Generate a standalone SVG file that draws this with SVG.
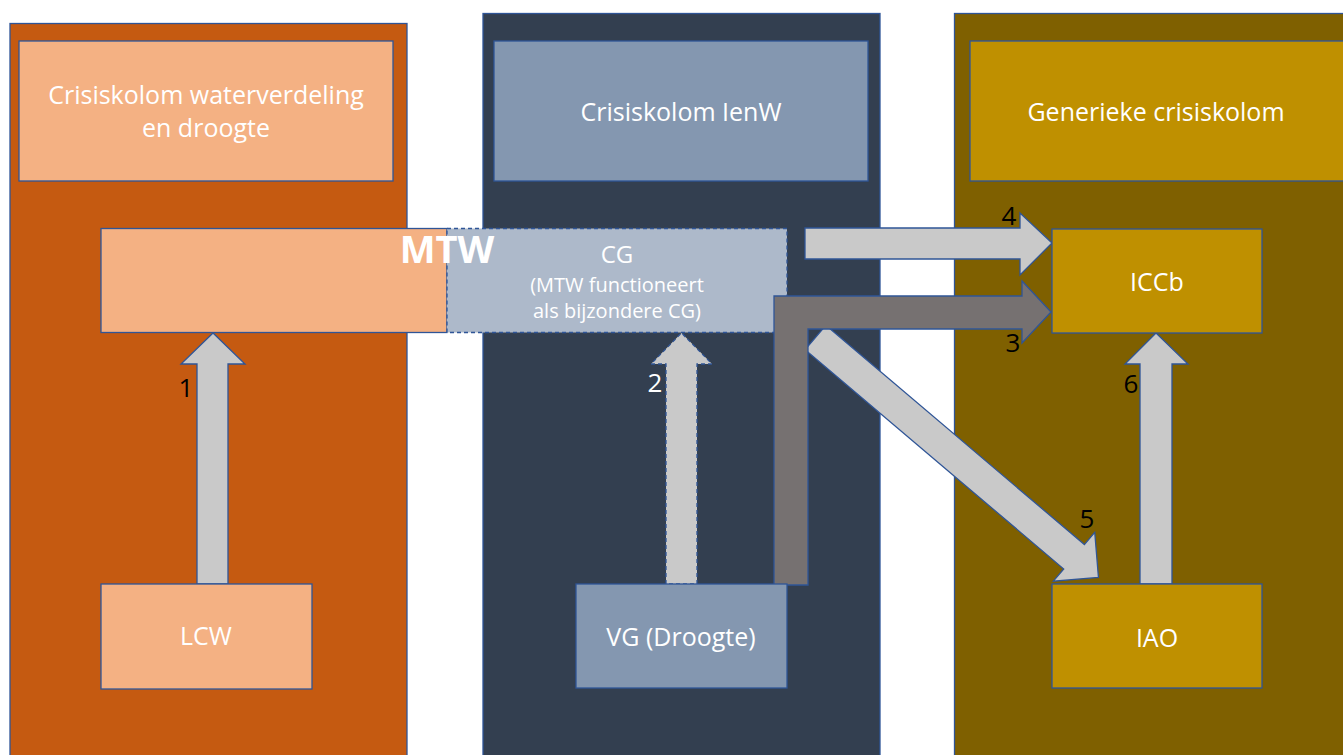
<svg xmlns="http://www.w3.org/2000/svg" width="1343" height="755" viewBox="0 0 1343 755">
<style>
.b{stroke:#2F5597;stroke-width:1.3}
.d{stroke-dasharray:4 3}
.t{font-family:"Open Sans","Noto Sans",sans-serif;fill:#FFFFFF;text-anchor:middle}
.n{font-family:"Open Sans","Noto Sans",sans-serif;font-size:26px;fill:#000000;text-anchor:middle}
.la{fill:#C9C9C9}
.da{fill:#767171}
</style>
<rect width="1343" height="755" fill="#FFFFFF"/>
<g id="col-left">
<rect class="b" x="10" y="23.5" width="397" height="740" fill="#C55A11"/>
<rect class="b" x="19" y="41" width="374" height="140" fill="#F4B183"/>
<text class="t" font-size="25" x="206" y="104">Crisiskolom waterverdeling</text>
<text class="t" font-size="25" x="206" y="137">en droogte</text>
</g>
<g id="col-mid">
<rect class="b" x="483" y="13.5" width="397" height="750" fill="#333F50"/>
<rect class="b" x="494" y="41" width="374" height="140" fill="#8497B0"/>
<text class="t" font-size="25" x="681" y="121">Crisiskolom IenW</text>
</g>
<g id="col-right">
<rect class="b" x="954.5" y="13.5" width="400" height="750" fill="#7F6000"/>
<rect class="b" x="970" y="41" width="390" height="140" fill="#BF9000"/>
<text class="t" font-size="25" x="1156" y="121">Generieke crisiskolom</text>
</g>
<g id="mtw">
<rect class="b" x="101" y="228.5" width="346" height="104" fill="#F4B183"/>
<rect class="b d" x="447" y="228.5" width="340" height="104" fill="#ADB9CA"/>
<text class="t" font-size="38" font-weight="700" x="447" y="263">MTW</text>
<text class="t" font-size="24" x="617" y="263">CG</text>
<text class="t" font-size="20" x="617" y="292">(MTW functioneert</text>
<text class="t" font-size="20" x="617" y="318">als bijzondere CG)</text>
</g>
<g id="connectors">
<polygon class="la b" points="197,584 197,364 181,364 213,333 245,364 228,364 228,584"/>
<polygon class="la b d" points="666,584 666,364 651,364 681.5,333 712,364 697,364 697,584"/>
<polygon class="la b" points="805,228 1020,228 1020,213 1052,243 1020,275 1020,259 805,259"/>
<polygon class="la b" transform="translate(815.5,337.5) rotate(40.3)" points="0,-16 339,-16 339,-32 371,0 339,32 339,16 0,16"/>
<polygon class="da b" points="774,585 774,296 1022,296 1022,281 1051,312 1022,343 1022,329 808,329 808,585"/>
<polygon class="la b" points="1140,584 1140,364 1125,364 1156,333 1188,364 1172,364 1172,584"/>
<text class="n" x="186" y="397">1</text>
<text class="n" x="655" y="392" fill="#FFFFFF" style="fill:#FFFFFF">2</text>
<text class="n" x="1013" y="352">3</text>
<text class="n" x="1009" y="225">4</text>
<text class="n" x="1087" y="528">5</text>
<text class="n" x="1131" y="393">6</text>
</g>
<g id="lcw">
<rect class="b" x="101" y="584" width="211" height="105" fill="#F4B183"/>
<text class="t" font-size="25" x="206" y="645">LCW</text>
</g>
<g id="vg">
<rect class="b" x="576" y="584" width="211" height="104" fill="#8497B0"/>
<text class="t" font-size="25" x="681" y="646">VG (Droogte)</text>
</g>
<g id="iccb">
<rect class="b" x="1052" y="229" width="210" height="104" fill="#BF9000"/>
<text class="t" font-size="25" x="1157" y="291">ICCb</text>
</g>
<g id="iao">
<rect class="b" x="1052" y="584" width="210" height="104" fill="#BF9000"/>
<text class="t" font-size="25" x="1157" y="647">IAO</text>
</g>
</svg>
